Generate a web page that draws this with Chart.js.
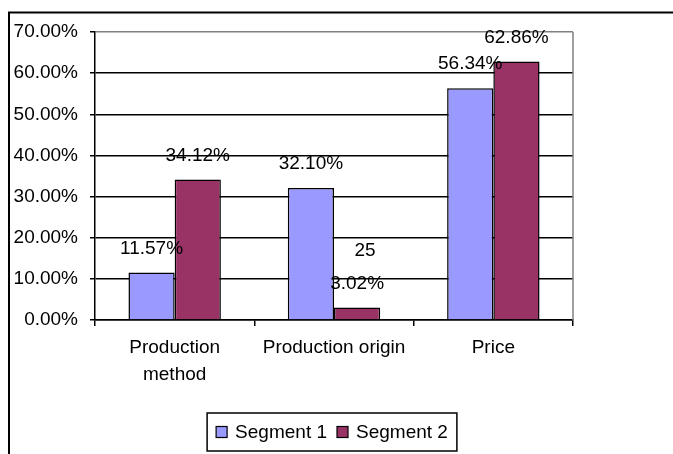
<!DOCTYPE html>
<html>
<head>
<meta charset="utf-8">
<script src="https://cdn.jsdelivr.net/npm/chart.js@4.4.1/dist/chart.umd.min.js"></script>
<style>
  html, body { margin: 0; padding: 0; background: #fff; }
  canvas { display: block; }
</style>
</head>
<body>
<canvas id="myChart" width="673" height="454"></canvas>
<script>
// categories and the two segments (percent)
const categories = [['Production', 'method'], 'Production origin', 'Price'];
const seriesNames = ['Segment 1', 'Segment 2'];
const segment1 = [11.57, 32.10, 56.34];
const segment2 = [34.12, 3.02, 62.86];
const seriesColors = ['#9999FF', '#993366'];
// loose text label sitting in the middle group
const noteLabels = ['', '25', ''];
const yMax = 70;
const yStep = 10;

const FONT = "'Liberation Sans', Arial, sans-serif";
const FSIZE = 19;

// value labels above each bar + the loose note
const valueLabels = {
  id: 'valueLabels',
  afterDatasetsDraw(chart) {
    const ctx = chart.ctx;
    ctx.save();
    ctx.font = FSIZE + 'px ' + FONT;
    ctx.fillStyle = '#000';
    ctx.textAlign = 'center';
    ctx.textBaseline = 'middle';
    chart.data.datasets.forEach((ds, i) => {
      chart.getDatasetMeta(i).data.forEach((bar, j) => {
        ctx.fillText(ds.data[j].toFixed(2) + '%', bar.x, bar.y - 24);
      });
    });
    const x = chart.scales.x, y = chart.scales.y;
    noteLabels.forEach((t, j) => {
      if (t) ctx.fillText(t, x.getPixelForValue(j) + 31, y.getPixelForValue(16.8));
    });
    ctx.restore();
  }
};

// outer frame, gray right edge of the plot, boxed legend
const frame = {
  id: 'frame',
  beforeDraw(chart) {
    const ctx = chart.ctx;
    ctx.save();
    ctx.fillStyle = '#fff';
    ctx.fillRect(0, 0, chart.width, chart.height);
    ctx.restore();
  },
  afterDraw(chart) {
    const ctx = chart.ctx;
    const a = chart.chartArea;
    ctx.save();
    ctx.strokeStyle = '#808080';
    ctx.lineWidth = 1.5;
    ctx.beginPath();
    ctx.moveTo(a.right, a.top);
    ctx.lineTo(a.right, a.bottom);
    ctx.stroke();

    ctx.strokeStyle = '#000';
    ctx.lineWidth = 2;
    ctx.beginPath();
    ctx.moveTo(9, chart.height);
    ctx.lineTo(9, 12.5);
    ctx.lineTo(chart.width, 12.5);
    ctx.stroke();

    // legend
    ctx.font = FSIZE + 'px ' + FONT;
    const sq = 11, gap = 8, itemGap = 10, pad = 9;
    const widths = seriesNames.map(n => ctx.measureText(n).width);
    let total = pad * 2 + itemGap * (seriesNames.length - 1);
    widths.forEach(w => { total += sq + gap + w; });
    const cx = 332, top = 413, h = 38;
    let lx = cx - total / 2;
    ctx.lineWidth = 1.5;
    ctx.strokeRect(lx, top, total, h);
    const my = top + h / 2;
    lx += pad;
    ctx.textBaseline = 'middle';
    ctx.textAlign = 'left';
    seriesNames.forEach((n, i) => {
      ctx.fillStyle = seriesColors[i];
      ctx.fillRect(lx, my - sq / 2, sq, sq);
      ctx.lineWidth = 1.2;
      ctx.strokeRect(lx, my - sq / 2, sq, sq);
      ctx.fillStyle = '#000';
      ctx.fillText(n, lx + sq + gap, my + 1);
      lx += sq + gap + widths[i] + itemGap;
    });
    ctx.restore();
  }
};

new Chart(document.getElementById('myChart'), {
  type: 'bar',
  data: {
    labels: categories,
    datasets: [
      { label: seriesNames[0], data: segment1, backgroundColor: seriesColors[0] },
      { label: seriesNames[1], data: segment2, backgroundColor: seriesColors[1] }
    ]
  },
  options: {
    responsive: false,
    devicePixelRatio: 1,
    animation: false,
    layout: { padding: { top: 32, right: 100, left: 0, bottom: 0 } },
    datasets: {
      bar: {
        borderColor: '#000',
        borderWidth: 1.5,
        categoryPercentage: 0.58,
        barPercentage: 1
      }
    },
    plugins: {
      legend: { display: false },
      tooltip: { enabled: false }
    },
    scales: {
      x: {
        afterFit: s => { s.height = 134; },
        grid: {
          offset: true,
          drawOnChartArea: false,
          tickLength: 6,
          tickColor: '#000',
          lineWidth: 1.5
        },
        border: { color: '#000', width: 1.5 },
        ticks: {
          color: '#000',
          autoSkip: false,
          maxRotation: 0,
          padding: 8,
          font: { family: FONT, size: FSIZE, lineHeight: 27 / FSIZE }
        }
      },
      y: {
        min: 0,
        max: yMax,
        afterFit: s => { s.width = 95; },
        grid: {
          color: c => (c.tick && c.tick.value === yMax ? '#808080' : '#000'),
          tickColor: '#000',
          tickLength: 5,
          lineWidth: 1.5
        },
        border: { color: '#000', width: 1.5 },
        ticks: {
          stepSize: yStep,
          color: '#000',
          padding: 12,
          font: { family: FONT, size: FSIZE },
          callback: v => v.toFixed(2) + '%'
        }
      }
    }
  },
  plugins: [frame, valueLabels]
});
</script>
</body>
</html>
